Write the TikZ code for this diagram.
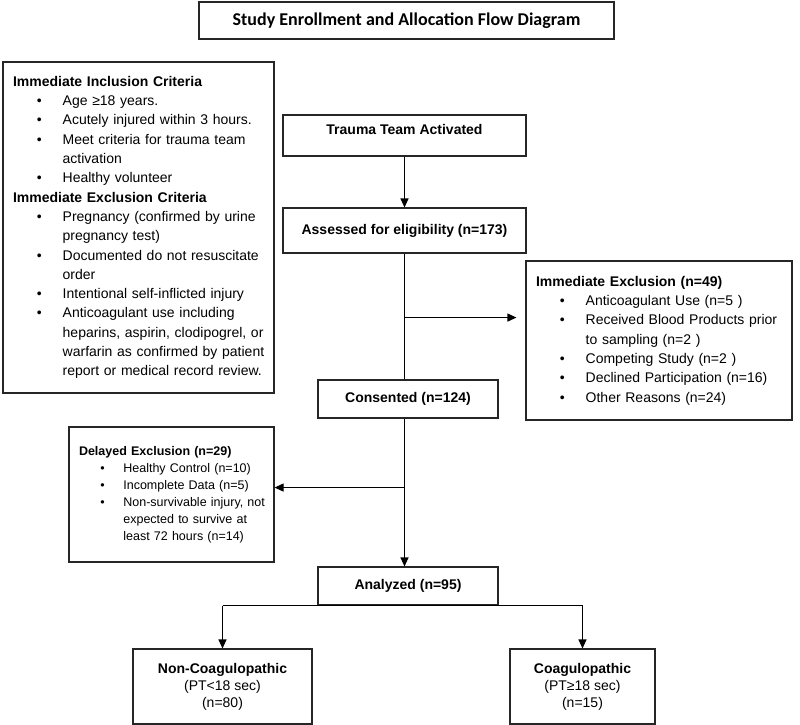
\documentclass[tikz,border=0pt]{standalone}
\usepackage{fontspec}
\setmainfont{Liberation Sans}
\newfontfamily\titlefont{Carlito}
\usetikzlibrary{positioning, arrows.meta}
\tikzset{
    box/.style={draw=black!85, line width=1.1pt, inner sep=0pt, align=center, font=\fontsize{14pt}{17pt}\selectfont}, % plain frame
    titlebox/.style={box, minimum width=415pt, minimum height=37pt, font=\titlefont\fontsize{18pt}{22pt}\selectfont\bfseries},
    listbox/.style={box, align=left, inner xsep=10pt, font=\fontsize{14pt}{19.3pt}\selectfont}, % boxes with bullet lists
}
\tikzstyle{arrow} = [line width=1.1pt, -{Triangle[length=9pt,width=8pt]}]
\newcommand{\bitem}[1]{\mbox{\hspace*{1.7em}\makebox[1.85em][l]{\textbullet}#1}}
\newcommand{\bcont}[1]{\mbox{\hspace*{3.55em}#1}}

\begin{document}
\begin{tikzpicture}[x=1pt, y=-1pt, on grid]
\useasboundingbox (0,0) rectangle (800,725);
                % Boxes
                \node[titlebox] (title) at (406.5,20.5) {Study Enrollment and Allocation Flow Diagram};
                \node[listbox, minimum width=271pt, minimum height=331pt, text width=251pt] (incl) at (138.5,227.5) {%
                    \textbf{Immediate Inclusion Criteria}\\
                    \bitem{Age ≥18 years.}\\
                    \bitem{Acutely injured within 3 hours.}\\
                    \bitem{Meet criteria for trauma team}\\
                    \bcont{activation}\\
                    \bitem{Healthy volunteer}\\
                    \textbf{Immediate Exclusion Criteria}\\
                    \bitem{Pregnancy (confirmed by urine}\\
                    \bcont{pregnancy test)}\\
                    \bitem{Documented do not resuscitate}\\
                    \bcont{order}\\
                    \bitem{Intentional self-inflicted injury}\\
                    \bitem{Anticoagulant use including}\\
                    \bcont{heparins, aspirin, clodipogrel, or}\\
                    \bcont{warfarin as confirmed by patient}\\
                    \bcont{report or medical record review.}};
                \node[box, minimum width=243pt, text height=19pt, text depth=22pt] (tta) at (404.5,135.5) {\textbf{Trauma Team Activated}};
                \node[box, minimum width=243pt, minimum height=45pt] (ase) [below=95pt of tta] {\textbf{Assessed for eligibility (n=173)}};
                \node[listbox, minimum width=266pt, minimum height=159pt, text width=246pt] (exc) [below right=110pt and 254.5pt of ase] {%
                    \textbf{Immediate Exclusion (n=49)}\\
                    \bitem{Anticoagulant Use (n=5 )}\\
                    \bitem{Received Blood Products prior}\\
                    \bcont{to sampling (n=2 )}\\
                    \bitem{Competing Study (n=2 )}\\
                    \bitem{Declined Participation (n=16)}\\
                    \bitem{Other Reasons (n=24)}};
                \node[box, minimum width=180pt, minimum height=38pt] (con) [below right=168.5pt and 3.5pt of ase] {\textbf{Consented (n=124)}};
                \node[listbox, minimum width=205pt, minimum height=135pt, text width=185pt, font=\fontsize{12.5pt}{17pt}\selectfont] (del) [below left=95.5pt and 236.5pt of con] {%
                    \textbf{Delayed Exclusion (n=29)}\\
                    \bitem{Healthy Control (n=10)}\\
                    \bitem{Incomplete Data (n=5)}\\
                    \bitem{Non-survivable injury, not}\\
                    \bcont{expected to survive at}\\
                    \bcont{least 72 hours (n=14)}};
                \node[box, minimum width=180pt, minimum height=38pt] (ana) [below=187pt of con] {\textbf{Analyzed (n=95)}};
                \node[box, minimum width=179pt, minimum height=75pt] (nc) [below left=100.5pt and 185.5pt of ana] {\textbf{Non-Coagulopathic}\\(PT<18 sec)\\(n=80)};
                \node[box, minimum width=145pt, minimum height=75pt] (co) [below right=100.5pt and 174.5pt of ana] {\textbf{Coagulopathic}\\(PT≥18 sec)\\(n=15)};

                % Verbindungen
                \path (ase.south) ++(0,64) coordinate (b1);
                \path (ase.south |- con.south) ++(0,69) coordinate (b2);
                \draw[arrow] (tta) -- (ase);
                \draw[line width=1.1pt] (ase.south) -- (ase.south |- con.north);
                \draw[arrow, shorten >=9pt] (b1) -- (b1 -| exc.west);
                \draw[arrow] (ase.south |- con.south) -- (ase.south |- ana.north);
                \draw[arrow] (b2) -- (b2 -| del.east);
                \draw[line width=1.1pt] (nc.north |- ana.south) -- (co.north |- ana.south);
                \draw[arrow] (nc.north |- ana.south) -- (nc);
                \draw[arrow] (co.north |- ana.south) -- (co);
\end{tikzpicture}
\end{document}
